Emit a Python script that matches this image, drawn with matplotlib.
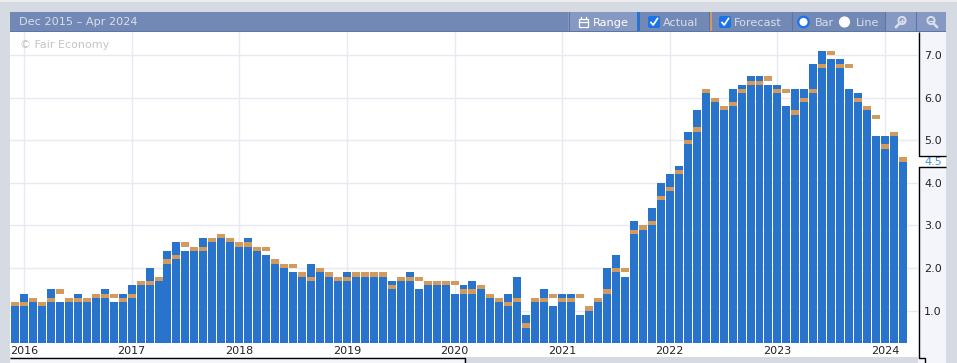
import matplotlib
matplotlib.use("Agg")
import matplotlib.pyplot as plt
from matplotlib.patches import Circle, FancyBboxPatch, Rectangle

BG = "#d5dae3"
HEADER = "#7288b5"
HEADER_LIGHT = "#8699c2"
HEADER_LINE = "#5c76aa"
PANEL = "#f3f5fb"
BLUE = "#2874cd"
ORANGE = "#d29a5d"
GRID = "#e8eaf3"
HEAD_TEXT = "#d9dfea"

actual = [
    1.1, 1.4, 1.2, 1.1, 1.5, 1.2, 1.2, 1.4, 1.2, 1.3, 1.5, 1.2,
    1.4, 1.6, 1.6, 2.0, 1.7, 2.4, 2.6, 2.4, 2.4, 2.7, 2.6, 2.7,
    2.6, 2.5, 2.7, 2.4, 2.3, 2.1, 2.0, 1.9, 1.8, 2.1, 1.9, 1.8,
    1.7, 1.9, 1.8, 1.8, 1.8, 1.8, 1.7, 1.7, 1.9, 1.5, 1.6, 1.6,
    1.6, 1.4, 1.6, 1.7, 1.5, 1.3, 1.2, 1.4, 1.8, 0.9, 1.2, 1.5,
    1.1, 1.4, 1.4, 0.9, 1.0, 1.2, 2.0, 2.3, 1.8, 3.1, 2.9, 3.4,
    4.0, 4.2, 4.4, 5.2, 5.7, 6.1, 5.9, 5.7, 6.2, 6.3, 6.5, 6.5,
    6.3, 6.3, 5.8, 6.2, 6.2, 6.8, 7.1, 6.9, 6.9, 6.2, 6.1, 5.7,
    5.1, 5.1, 5.1, 4.5,
]
forecast = [
    1.2, 1.2, 1.3, 1.2, 1.3, 1.5, 1.3, 1.3, 1.3, 1.4, 1.4, 1.4,
    1.3, 1.4, 1.7, 1.7, 1.8, 2.2, 2.3, 2.6, 2.5, 2.5, 2.7, 2.8,
    2.7, 2.6, 2.6, 2.5, 2.5, 2.2, 2.1, 2.1, 1.9, 1.8, 2.0, 1.9,
    1.8, 1.8, 1.9, 1.9, 1.9, 1.9, 1.6, 1.8, 1.8, 1.8, 1.7, 1.7,
    1.7, 1.7, 1.5, 1.5, 1.6, 1.4, 1.3, 1.2, 1.3, 0.7, 1.3, 1.3,
    1.4, 1.3, 1.3, 1.4, 1.1, 1.3, 1.5, 2.0, 2.0, 2.9, 3.0, 3.1,
    3.7, 3.9, 4.3, 5.0, 5.3, 6.2, 6.0, 5.8, 5.9, 6.2, 6.4, 6.4,
    6.5, 6.2, 6.2, 5.7, 6.0, 6.2, 6.8, 7.1, 6.8, 6.8, 6.0, 5.8,
    5.6, 4.9, 5.2, 4.6,
]
year_ticks = [1, 13, 25, 37, 49, 61, 73, 85, 97]
year_labels = ["2016", "2017", "2018", "2019", "2020", "2021", "2022", "2023", "2024"]
value_ticks = [1, 2, 3, 4, 5, 6, 7]
date_range = "Dec 2015 \u2013 Apr 2024"

fig = plt.figure(figsize=(9.57, 3.63), dpi=100, facecolor=BG)

# page furniture, drawn in pixel coordinates
ui = fig.add_axes([0, 0, 1, 1], zorder=0)
ui.set_xlim(0, 957)
ui.set_ylim(363, 0)
ui.axis("off")


def box(x0, y0, x1, y1, color):
    ui.add_patch(Rectangle((x0, y0), x1 - x0, y1 - y0, fc=color, ec="none"))


box(0, 0, 957, 2, "#ececec")
box(10, 12, 946, 32, HEADER)
box(10, 32, 918, 357, "white")
box(918, 32, 946, 363, PANEL)
box(918, 155, 946, 166, "white")
box(10, 357, 464, 363, PANEL)
box(568, 12, 637, 31, HEADER_LIGHT)
box(885, 12, 946, 31, HEADER_LIGHT)
box(10, 31, 946, 32, HEADER_LINE)
for x in [568, 708, 791, 884, 915]:
    ui.plot([x + 0.5, x + 0.5], [12, 31], color=HEADER_LINE, lw=0.8)
box(637, 12, 640, 31, BLUE)
box(709, 12, 712, 31, ORANGE)

ui.text(19, 22, date_range, color=HEAD_TEXT, fontsize=8.1, va="center")
ui.text(593, 22.5, "Range", color="white", fontsize=8.2, va="center")
ui.text(663, 22.5, "Actual", color=HEAD_TEXT, fontsize=8.1, va="center")
ui.text(734, 22.5, "Forecast", color=HEAD_TEXT, fontsize=8.1, va="center")
ui.text(815, 22.5, "Bar", color=HEAD_TEXT, fontsize=8.1, va="center")
ui.text(856, 22.5, "Line", color=HEAD_TEXT, fontsize=8.1, va="center")

# range icon
ui.add_patch(Rectangle((579, 18.5), 9, 8, fc="none", ec="white", lw=0.9))
ui.plot([579, 588], [21.5, 21.5], color="white", lw=0.9)
ui.plot([581, 581], [17, 19], color="white", lw=0.9)
ui.plot([586, 586], [17, 19], color="white", lw=0.9)

# check boxes
for x in [648, 719]:
    ui.add_patch(FancyBboxPatch((x + 1, 17), 10, 10, boxstyle="round,pad=1,rounding_size=2",
                                fc="#1a73e8", ec="none"))
    ui.plot([x + 3, x + 5.2, x + 9.5], [22.5, 25, 18.5], color="white", lw=1.3)

# radio buttons
ui.add_patch(Circle((803.5, 22), 5.2, fc="white", ec="#1a73e8", lw=1.6))
ui.add_patch(Circle((844.5, 22), 5.6, fc="white", ec="none"))

# zoom icons
ui.add_patch(Circle((902, 20.5), 3.6, fc="none", ec=HEAD_TEXT, lw=1.4))
ui.plot([899.5, 896], [23.5, 27], color=HEAD_TEXT, lw=1.8)
ui.plot([900, 904], [20.5, 20.5], color=HEAD_TEXT, lw=0.9)
ui.plot([902, 902], [18.5, 22.5], color=HEAD_TEXT, lw=0.9)
ui.add_patch(Circle((931, 20.5), 3.6, fc="none", ec=HEAD_TEXT, lw=1.4))
ui.plot([933.5, 937], [23.5, 27], color=HEAD_TEXT, lw=1.8)
ui.plot([929, 933], [20.5, 20.5], color=HEAD_TEXT, lw=0.9)

# the chart itself
ax = fig.add_axes([10 / 957, (363 - 343) / 363, 908 / 957, 311 / 363], zorder=1)
x = list(range(len(actual)))
ax.bar(x, actual, width=0.89, color=BLUE, zorder=2)
ax.bar(x, [0.1] * len(x), bottom=[v - 0.1 for v in forecast], width=0.89, color=ORANGE, zorder=3)

ax.set_xlim(-0.557, 100.67)
ax.set_ylim(0.24, 7.54)
ax.set_xticks(year_ticks, year_labels)
ax.set_yticks(value_ticks, [f"{v:.1f}" for v in value_ticks])
ax.yaxis.tick_right()
ax.tick_params(length=0, labelsize=8, labelcolor="#222222")
ax.tick_params(axis="x", pad=2.5)
ax.tick_params(axis="y", pad=4.5)
ax.grid(color=GRID, lw=1, zorder=0)
ax.set_axisbelow(True)
for spine in ax.spines.values():
    spine.set_visible(False)

ax.text(9.5 / 908, 1 - 13.5 / 311, "\u00a9 Fair Economy", transform=ax.transAxes,
        color="#c4c4c4", fontsize=8, va="center")
ax.annotate(f"{actual[-1]:.1f}", xy=(1, actual[-1]), xycoords=("axes fraction", "data"),
            xytext=(4.5, 0), textcoords="offset points", va="center",
            color="#4a8fdf", fontsize=8)

# black frame of the value panel and the scroll bar
top = fig.add_axes([0, 0, 1, 1], zorder=2)
top.set_xlim(0, 957)
top.set_ylim(363, 0)
top.axis("off")
top.patch.set_alpha(0)
frame = dict(color="black", lw=1, solid_capstyle="butt")
top.plot([918.5, 918.5, 946], [32, 155.5, 155.5], **frame)
top.plot([946, 918.5, 918.5, 924.5, 924.5], [166.5, 166.5, 357.5, 357.5, 363], **frame)
top.plot([10, 464.5, 464.5], [357.5, 357.5, 363], **frame)

fig.savefig("out.png", dpi=100, facecolor=BG)
